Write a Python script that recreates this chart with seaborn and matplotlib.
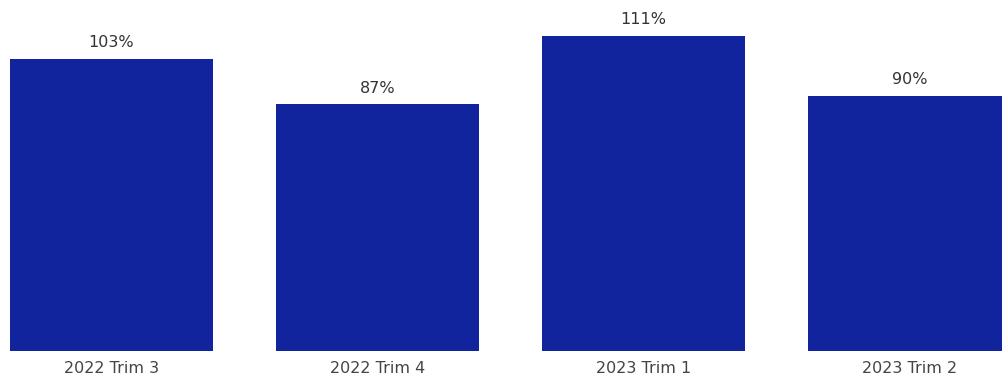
import matplotlib
matplotlib.use("Agg")
import matplotlib.pyplot as plt
import seaborn as sns
import pandas as pd

quarters = ["2022 Trim 3", "2022 Trim 4", "2023 Trim 1", "2023 Trim 2"]
pct = [103, 87, 111, 90]
labels = ["103%", "87%", "111%", "90%"]

df = pd.DataFrame({"quarter": quarters, "pct": pct})

sns.set_style("white")
plt.rcParams["font.family"] = ["DejaVu Sans"]

fig = plt.figure(figsize=(10.03, 3.77), dpi=100)
ax = fig.add_axes([0, 26 / 377, 1, 351 / 377])
sns.barplot(data=df, x="quarter", y="pct", color="#12239E", saturation=1,
            width=0.763, linewidth=0, ax=ax)

for p, lab in zip(ax.patches, labels):
    ax.annotate(lab, (p.get_x() + p.get_width() / 2, p.get_height()),
                xytext=(0, 8.5), textcoords="offset points",
                ha="center", va="baseline", fontsize=11.5, color="#333333")

ax.set_xlim(-0.419, 3.351)
ax.set_ylim(0, 123.8)
ax.set_xlabel("")
ax.set_ylabel("")
ax.set_yticks([])
ax.tick_params(axis="x", length=0, pad=7, labelsize=11.5, labelcolor="#444444")
sns.despine(ax=ax, left=True, bottom=True)

fig.savefig("out.png", dpi=100)
